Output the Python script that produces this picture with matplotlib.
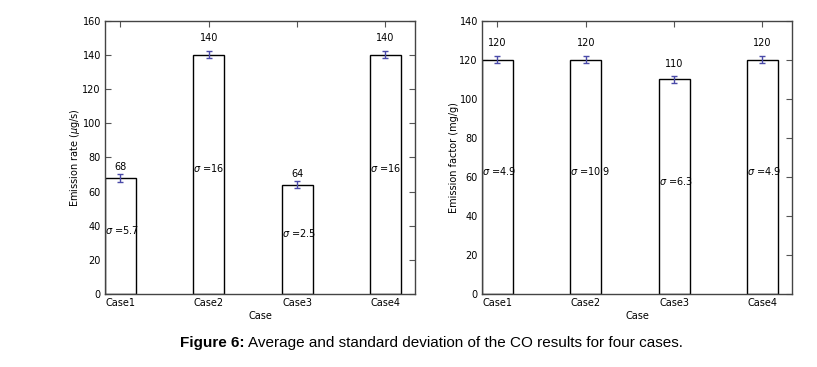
import matplotlib
matplotlib.use("Agg")
import matplotlib.pyplot as plt
import numpy as np

cases = ['Case1', 'Case2', 'Case3', 'Case4']
rate = [68, 140, 64, 140]
rate_err = [2.3, 2.0, 2.0, 2.0]
rate_sigma = ['5.7', '16', '2.5', '16']
factor = [120, 120, 110, 120]
factor_err = [1.7, 1.7, 1.7, 1.7]
factor_sigma = ['4.9', '10.9', '6.3', '4.9']

plt.rcParams['font.family'] = ['DejaVu Sans']
plt.rcParams['mathtext.fontset'] = 'dejavusans'

W, H = 817, 367
fig = plt.figure(figsize=(W / 100, H / 100), dpi=100)
fig.patch.set_facecolor('white')

FS = 7
width = 0.35
x = np.arange(len(cases))


def panel(rect, vals, errs, sigmas, ylim, ylabel):
    ax = fig.add_axes(rect)
    ax.bar(x, vals, width, color='white', edgecolor='black', linewidth=1.0, zorder=2)
    ax.errorbar(x, vals, yerr=errs, fmt='none', ecolor='#4a4aa8', elinewidth=1.0,
                capsize=2.5, capthick=1.0, zorder=3)
    for xi, v, s in zip(x, vals, sigmas):
        ax.text(xi, v * 1.05, f'{v}', ha='center', va='bottom', fontsize=FS)
        ax.text(xi - width / 2, v / 2, r'$\sigma$ =' + s, ha='left', va='bottom',
                fontsize=FS)
    ax.set_xlim(-0.175, 3.335)
    ax.set_ylim(*ylim)
    ax.set_yticks(np.arange(ylim[0], ylim[1] + 1, 20))
    ax.set_xticks(x)
    ax.set_xticklabels(cases)
    ax.tick_params(direction='in', length=4, width=0.8, labelsize=FS, top=True,
                   right=True, pad=3, colors='#555555', labelcolor='black')
    for sp in ax.spines.values():
        sp.set_linewidth(1.0)
        sp.set_color('#444444')
    ax.set_xlabel('Case', fontsize=FS, labelpad=2)
    ax.set_ylabel(ylabel, fontsize=FS, labelpad=0)
    return ax


y0 = (H - 294) / H
h = (294 - 20.7) / H
panel([105 / W, y0, 310 / W, h], rate, rate_err, rate_sigma, (0, 160),
      r'Emission rate ($\mu$g/s)')
panel([482 / W, y0, 310 / W, h], factor, factor_err, factor_sigma, (0, 140),
      'Emission factor (mg/g)')

cap_y = (H - 343) / H
CFS = 11
t1 = fig.text(180 / W, cap_y, 'Figure 6:', fontsize=CFS, fontweight='bold',
              family='Liberation Sans', ha='left', va='center')
fig.canvas.draw()
bb = t1.get_window_extent()
fig.text((bb.x1 + 3) / W, cap_y,
         'Average and standard deviation of the CO results for four cases.',
         fontsize=CFS, family='Liberation Sans', ha='left', va='center')

fig.savefig('out.png', dpi=100)
